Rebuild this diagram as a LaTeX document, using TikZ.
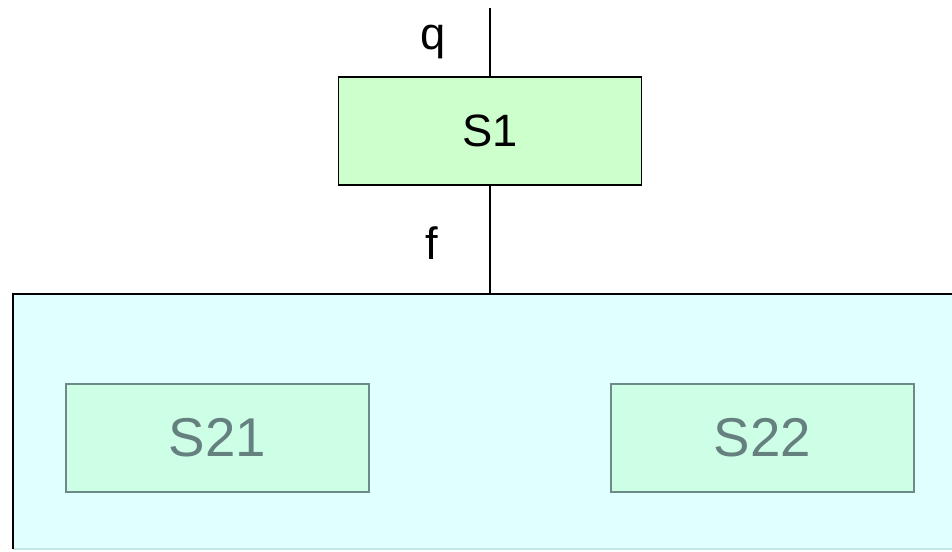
\documentclass[tikz,border=0pt]{standalone}
\usepackage{fontspec}
\setmainfont{Liberation Sans}
\definecolor{sgreen}{HTML}{CCFFCC}
\definecolor{scyan}{HTML}{E0FFFF}
\definecolor{subfill}{HTML}{CCFFE6}
\definecolor{subline}{HTML}{6E8A86}
\definecolor{subtext}{HTML}{668080}
\definecolor{botline}{HTML}{C4E6E6}
\begin{document}
\begin{tikzpicture}[x=0.75pt,y=-0.75pt,
  mainbox/.style={draw=black,fill=sgreen,line width=1pt,minimum width=303*0.75pt,minimum height=108*0.75pt,inner sep=0pt,font=\fontsize{34}{36}\selectfont},
  subbox/.style={draw=subline,fill=subfill,line width=1.1pt,minimum width=303*0.75pt,minimum height=108*0.75pt,inner sep=0pt,text=subtext,font=\fontsize{41}{44}\selectfont},
  lbl/.style={font=\fontsize{34}{36}\selectfont,inner sep=0pt},
  wire/.style={draw=black,line width=1pt}]
\useasboundingbox (0,0) rectangle (952,551);
\begin{scope}
\clip (0,0) rectangle (952,551);
\fill[scyan] (13,294) rectangle (970,549);
\draw[botline,line width=1pt] (13,549) -- (970,549);
\draw[black,line width=1.5pt] (13,549) -- (13,294) -- (970,294);
\end{scope}
\coordinate (top) at (490,8);
\coordinate (par) at (490,294);
\node[mainbox] (s1) at (490,131) {S1};
\node[subbox] (s21) at (217.5,438) {S21};
\node[subbox] (s22) at (762.5,438) {S22};
\node[lbl,anchor=base] (q) at (433,49) {q};
\node[lbl,anchor=base] (f) at (432,259) {f};
\draw[wire] (top) -- (s1.north);
\draw[wire] (s1.south) -- (par);
\end{tikzpicture}
\end{document}
